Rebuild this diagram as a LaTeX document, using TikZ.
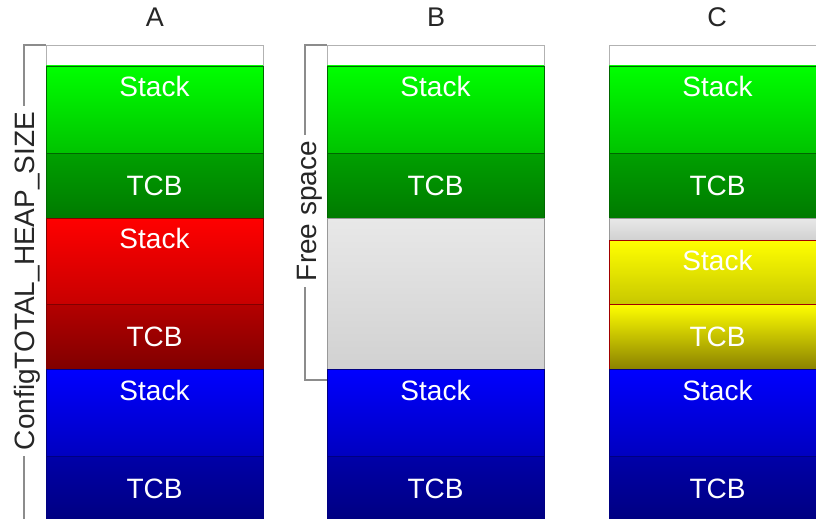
\documentclass[tikz,border=0pt]{standalone}
\usepackage{fontspec}
\setmainfont{Liberation Sans}
\begin{document}
\begin{tikzpicture}[x=1pt,y=-1pt,
  blk/.style={line width=0.8pt, minimum width=217pt, inner sep=0pt, outer sep=0pt, anchor=north west},
  emptyblk/.style={blk, draw=black!30, fill=white},
  freeblk/.style={blk, draw=black!40, top color=black!9, bottom color=black!18},
  gstack/.style={blk, draw=green!40!black, top color={rgb,255:red,0;green,255;blue,0}, bottom color={rgb,255:red,0;green,195;blue,0}},
  gtcb/.style={blk, draw=green!40!black, top color={rgb,255:red,0;green,160;blue,0}, bottom color={rgb,255:red,0;green,122;blue,0}},
  rstack/.style={blk, draw=red!50!black, top color={rgb,255:red,255;green,0;blue,0}, bottom color={rgb,255:red,200;green,0;blue,0}},
  rtcb/.style={blk, draw=red!50!black, top color={rgb,255:red,180;green,0;blue,0}, bottom color={rgb,255:red,128;green,0;blue,0}},
  bstack/.style={blk, draw=blue!50!black, top color={rgb,255:red,0;green,0;blue,255}, bottom color={rgb,255:red,0;green,0;blue,192}},
  btcb/.style={blk, draw=blue!50!black, top color={rgb,255:red,0;green,0;blue,168}, bottom color={rgb,255:red,0;green,0;blue,128}},
  ystack/.style={blk, draw={rgb,255:red,160;green,0;blue,0}, top color={rgb,255:red,255;green,255;blue,0}, bottom color={rgb,255:red,200;green,200;blue,0}},
  ytcb/.style={blk, draw={rgb,255:red,160;green,0;blue,0}, top color={rgb,255:red,255;green,255;blue,0}, bottom color={rgb,255:red,138;green,130;blue,0}},
  lbl/.style={text=white, font=\fontsize{28}{33}\selectfont, inner sep=0pt, anchor=base},
  title/.style={text=black!85, font=\fontsize{27}{32}\selectfont, inner sep=0pt},
  brk/.style={draw=black!45, line width=1.3pt},
  brktext/.style={text=black!85, font=\fontsize{28}{33}\selectfont, fill=white, inner sep=6pt, rotate=90}
]
\clip (0,0) rectangle (816,519);
\useasboundingbox (0,0) rectangle (816,519);

% column titles
\node[title] (tA) at (155,17) {A};
\node[title] (tB) at (436,17) {B};
\node[title] (tC) at (717,17) {C};

% brackets
\draw[brk] (46,45) -- (24,45) -- (24,530);
\node[brktext] (heap) at (27,281) {ConfigTOTAL\_HEAP\_SIZE};
\draw[brk] (327,45) -- (305,45) -- (305,380) -- (327,380);
\node[brktext] (free) at (310,211) {Free space};

% column A
\node[emptyblk, minimum height=21pt] (a0) at (46,45) {};
\node[gstack, minimum height=87pt] (a1) at (46,66) {};
\node[gtcb, minimum height=65pt] (a2) at (46,153) {};
\node[rstack, minimum height=86pt] (a3) at (46,218) {};
\node[rtcb, minimum height=65pt] (a4) at (46,304) {};
\node[bstack, minimum height=87pt] (a5) at (46,369) {};
\node[btcb, minimum height=66pt] (a6) at (46,456) {};
\node[lbl] (a1t) at (154.5,96) {Stack};
\node[lbl] (a2t) at (154.5,195) {TCB};
\node[lbl] (a3t) at (154.5,248) {Stack};
\node[lbl] (a4t) at (154.5,346) {TCB};
\node[lbl] (a5t) at (154.5,400) {Stack};
\node[lbl] (a6t) at (154.5,498) {TCB};

% column B
\node[emptyblk, minimum height=21pt] (b0) at (327,45) {};
\node[gstack, minimum height=87pt] (b1) at (327,66) {};
\node[gtcb, minimum height=65pt] (b2) at (327,153) {};
\node[freeblk, minimum height=151pt] (b3) at (327,218) {};
\node[bstack, minimum height=87pt] (b5) at (327,369) {};
\node[btcb, minimum height=66pt] (b6) at (327,456) {};
\node[lbl] (b1t) at (435.5,96) {Stack};
\node[lbl] (b2t) at (435.5,195) {TCB};
\node[lbl] (b5t) at (435.5,400) {Stack};
\node[lbl] (b6t) at (435.5,498) {TCB};

% column C
\node[emptyblk, minimum height=21pt] (c0) at (609,45) {};
\node[gstack, minimum height=87pt] (c1) at (609,66) {};
\node[gtcb, minimum height=65pt] (c2) at (609,153) {};
\node[freeblk, minimum height=22pt] (c3) at (609,218) {};
\node[ystack, minimum height=64pt] (c4) at (609,240) {};
\node[ytcb, minimum height=65pt] (c5) at (609,304) {};
\node[bstack, minimum height=87pt] (c6) at (609,369) {};
\node[btcb, minimum height=66pt] (c7) at (609,456) {};
\node[lbl] (c1t) at (717.5,96) {Stack};
\node[lbl] (c2t) at (717.5,195) {TCB};
\node[lbl] (c4t) at (717.5,270) {Stack};
\node[lbl] (c5t) at (717.5,346) {TCB};
\node[lbl] (c6t) at (717.5,400) {Stack};
\node[lbl] (c7t) at (717.5,498) {TCB};
\end{tikzpicture}
\end{document}
